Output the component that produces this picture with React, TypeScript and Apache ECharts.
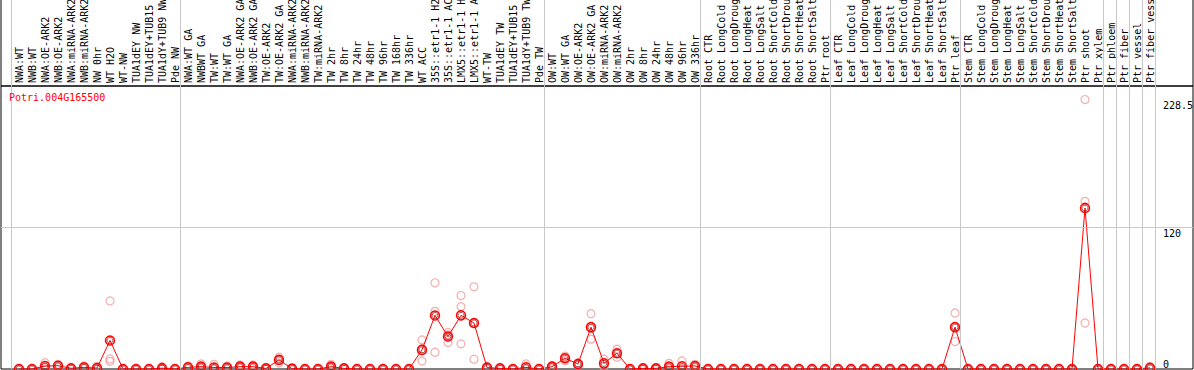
import React, { useEffect, useRef } from "react";
import * as echarts from "echarts";

const GENE_ID = "Potri.004G165500";

const CATEGORIES = [
  "NWA:WT", "NWB:WT", "NWA:OE-ARK2", "NWB:OE-ARK2", "NWA:miRNA-ARK2", "NWB:miRNA-ARK2", "NW 0hr", "WT H2O", "WT-NW", "TUA1dEY NW", "TUA1dEY+TUB15", "TUA1dY+TUB9 NW", "Pde NW",
  "NWA:WT GA", "NWBWT GA", "TW:WT", "TW:WT GA", "NWA:OE-ARK2 GA", "NWB:OE-ARK2 GA", "TW:OE-ARK2", "TW:OE-ARK2 GA", "NWA:miRNA-ARK2", "NWB:miRNA-ARK2", "TW:miRNA-ARK2", "TW 2hr", "TW 8hr", "TW 24hr", "TW 48hr", "TW 96hr", "TW 168hr", "TW 336hr", "WT ACC", "35S::etr1-1 H2", "35S::etr1-1 AC", "LMX5::etr1-1 H", "LMX5::etr1-1 A", "WT-TW", "TUA1dEY TW", "TUA1dEY+TUB15", "TUA1dY+TUB9 TW", "Pde TW",
  "OW:WT", "OW:WT GA", "OW:OE-ARK2", "OW:OE-ARK2 GA", "OW:miRNA-ARK2", "OW:miRNA-ARK2", "OW 2hr", "OW 8hr", "OW 24hr", "OW 48hr", "OW 96hr", "OW 336hr",
  "Root CTR", "Root LongCold", "Root LongDroug", "Root LongHeat", "Root LongSalt", "Root ShortCold", "Root ShortDrou", "Root ShortHeat", "Root ShortSalt", "Ptr root",
  "Leaf CTR", "Leaf LongCold", "Leaf LongDroug", "Leaf LongHeat", "Leaf LongSalt", "Leaf ShortCold", "Leaf ShortDrou", "Leaf ShortHeat", "Leaf ShortSalt", "Ptr leaf",
  "Stem CTR", "Stem LongCold", "Stem LongDroug", "Stem LongHeat", "Stem LongSalt", "Stem ShortCold", "Stem ShortDrou", "Stem ShortHeat", "Stem ShortSalt", "Ptr shoot", "Ptr xylem",
  "Ptr phloem", "Ptr fiber", "Ptr vessel", "Ptr fiber vess",
];

// mean expression per sample
const MEANS = [
  0, 0, 2.5, 2.8, 0.6, 1.4, 0.8, 24.2, 0, 0, 0, 0.7, 0,
  1.4, 2, 1.3, 1.2, 2, 2, 0.5, 7.7, 0.3, 0, 0, 2, 0.5, 0, 0, 0, 0, 0, 16.2, 45.4, 27.5, 45.5, 39, 1.2, 0.5, 0, 1.4, 0,
  2, 9.1, 4.3, 35.5, 4.8, 13.4, 0, 0.5, 0.5, 2, 2.3, 2.6,
  0, 0, 0, 0, 0, 0, 0, 0, 0, 0,
  0, 0, 0, 0, 0, 0, 0, 0, 0, 35.5,
  0, 0, 0, 0, 0, 0, 0, 0, 0, 136.6, 0,
  0, 0, 0, 1,
];

// individual replicates
const REP_A = [
  0, 0, 5.4, 4, 1, 2.5, 2.3, 57.7, 0, 0, 0, 2, 0,
  2.5, 4.3, 4, 2.5, 3.5, 3.5, 1, 10, 0.5, 0, 0, 4, 1, 0, 0, 0, 0, 0, 24.7, 73.1, 31, 62.3, 69.7, 2, 1, 0, 4.3, 0,
  3, 11, 5, 46.9, 8.3, 16.8, 0, 1, 1, 4.8, 6.8, 4,
  0, 0, 0, 0, 0, 0, 0, 0, 0, 0,
  0, 0, 0, 0, 0, 0, 0, 0, 0, 47.5,
  0, 0, 0, 0, 0, 0, 0, 0, 0, 228.5, 0,
  0, 0, 0, 2,
];
const REP_B = [
  0, 0, 1.5, 3, 0.5, 1.2, 0, 8.5, 0, 0, 0, 0, 0,
  1.2, 1.2, 0, 1, 1.8, 1.8, 0.5, 8, 0.3, 0, 0, 1.5, 0.5, 0, 0, 0, 0, 0, 17, 48.9, 29, 52.9, 39, 1, 0.5, 0, 0, 0,
  2, 9.3, 4.3, 34.3, 4, 13.4, 0, 0.5, 0.5, 1, 0, 2.6,
  0, 0, 0, 0, 0, 0, 0, 0, 0, 0,
  0, 0, 0, 0, 0, 0, 0, 0, 0, 35.7,
  0, 0, 0, 0, 0, 0, 0, 0, 0, 142.2, 0,
  0, 0, 0, 1,
];
const REP_C = [
  0, 0, 0.6, 1.4, 0.3, 0.5, 0, 6.5, 0, 0, 0, 0, 0,
  0.5, 0.5, 0, 0, 0.7, 0.7, 0, 5, 0, 0, 0, 0.5, 0, 0, 0, 0, 0, 0, 6.8, 14.2, 22.4, 21.3, 8.3, 0.5, 0, 0, 0, 0,
  1, 7, 3.6, 25.3, 2, 10, 0, 0, 0, 0.2, 0, 1.2,
  0, 0, 0, 0, 0, 0, 0, 0, 0, 0,
  0, 0, 0, 0, 0, 0, 0, 0, 0, 23.3,
  0, 0, 0, 0, 0, 0, 0, 0, 0, 39, 0,
  0, 0, 0, 0,
];

const Y_TICKS = [0, 120, 228.5];
const GROUP_STARTS = [0, 13, 41, 53, 63, 73, 84, 85, 86, 87, 88];

const Y_MAX = 240;
const X_MIN = -18 / 13;
const X_MAX = 1174 / 13;
const LABEL_BASE = 3; // label area axis: pixels above the divider line

export default function App() {
  const ref = useRef<HTMLDivElement>(null);
  useEffect(() => {
    const chart = echarts.init(ref.current!, null, { renderer: "svg" });
    const mono = "'DejaVu Sans Mono', monospace";
    const reps: number[][] = [];
    [REP_A, REP_B, REP_C].forEach((arr) => arr.forEach((v, i) => reps.push([i, v])));
    const means = MEANS.map((v, i) => [i, v]);
    const edgeLines: any[] = GROUP_STARTS.map((k) => ({ xAxis: k - 0.62 }));
    const grayLine = { color: "#c8c8c8", width: 1, type: "solid" };
    const hiddenX = { type: "value", min: X_MIN, max: X_MAX, show: false };
    chart.setOption({
      animation: false,
      title: {
        text: GENE_ID,
        left: 9,
        top: 92,
        padding: 0,
        textStyle: { color: "#ff0000", fontSize: 10, fontWeight: "normal", fontFamily: mono },
      },
      grid: [
        { left: 1, right: 1, top: 86, bottom: 1, show: true, borderColor: "#000", borderWidth: 1, containLabel: false, outerBoundsMode: "none" },
        { left: 1, right: 1, top: -1, height: 87, show: true, borderColor: "#000", borderWidth: 1, containLabel: false, outerBoundsMode: "none" },
      ],
      xAxis: [
        { ...hiddenX, gridIndex: 0 },
        { ...hiddenX, gridIndex: 1 },
      ],
      yAxis: [
        {
          gridIndex: 0,
          type: "value",
          min: 0,
          max: Y_MAX,
          position: "right",
          axisLine: { show: false },
          axisTick: { show: false },
          splitLine: { show: false },
          axisLabel: {
            customValues: Y_TICKS,
            inside: true,
            align: "left",
            margin: 30,
            verticalAlign: "top",
            verticalAlignMinLabel: "bottom",
            padding: [1, 0, 0, 0],
            formatter: (v: number) => String(v),
            fontFamily: mono,
            fontSize: 10,
            color: "#000",
          },
        },
        { gridIndex: 1, type: "value", min: 0, max: 87, show: false },
      ],
      series: [
        {
          type: "scatter",
          xAxisIndex: 0,
          yAxisIndex: 0,
          data: reps,
          z: 2,
          symbol: "circle",
          symbolSize: 8,
          itemStyle: { color: "rgba(0,0,0,0)", borderColor: "#f09a9a", borderWidth: 1.2 },
          markLine: {
            silent: true,
            symbol: "none",
            label: { show: false },
            lineStyle: grayLine,
            data: [{ yAxis: 120 }, ...edgeLines],
          },
        },
        {
          type: "line",
          xAxisIndex: 0,
          yAxisIndex: 0,
          data: means,
          z: 3,
          showAllSymbol: true,
          symbol: "circle",
          symbolSize: 9,
          lineStyle: { color: "#ff0000", width: 1 },
          itemStyle: { color: "rgba(0,0,0,0)", borderColor: "#ff0000", borderWidth: 1.5 },
        },
        {
          type: "scatter",
          xAxisIndex: 0,
          yAxisIndex: 0,
          data: means,
          z: 4,
          symbol: "circle",
          symbolSize: 6,
          itemStyle: { color: "rgba(0,0,0,0)", borderColor: "#700000", borderWidth: 0.8 },
        },
        {
          type: "scatter",
          xAxisIndex: 1,
          yAxisIndex: 1,
          data: GROUP_STARTS.map((k) => [k, 0]),
          symbolSize: 0,
          silent: true,
          markLine: {
            silent: true,
            symbol: "none",
            label: { show: false },
            lineStyle: grayLine,
            data: edgeLines,
          },
        },
        {
          type: "custom",
          xAxisIndex: 1,
          yAxisIndex: 1,
          silent: true,
          data: CATEGORIES.map((_, i) => [i, LABEL_BASE]),
          renderItem: (params: any, api: any) => {
            const i = api.value(0);
            const p = api.coord([i, api.value(1)]);
            return {
              type: "text",
              x: p[0],
              y: p[1],
              rotation: Math.PI / 2,
              style: {
                text: CATEGORIES[i],
                align: "left",
                verticalAlign: "middle",
                fontFamily: "DejaVu Sans Mono",
                fontSize: 10,
                fill: "#000",
              },
            };
          },
        },
      ],
    });
    return () => chart.dispose();
  }, []);
  return <div ref={ref} style={{ position: "absolute", left: 0, top: 0, width: 1194, height: 370 }} />;
}
